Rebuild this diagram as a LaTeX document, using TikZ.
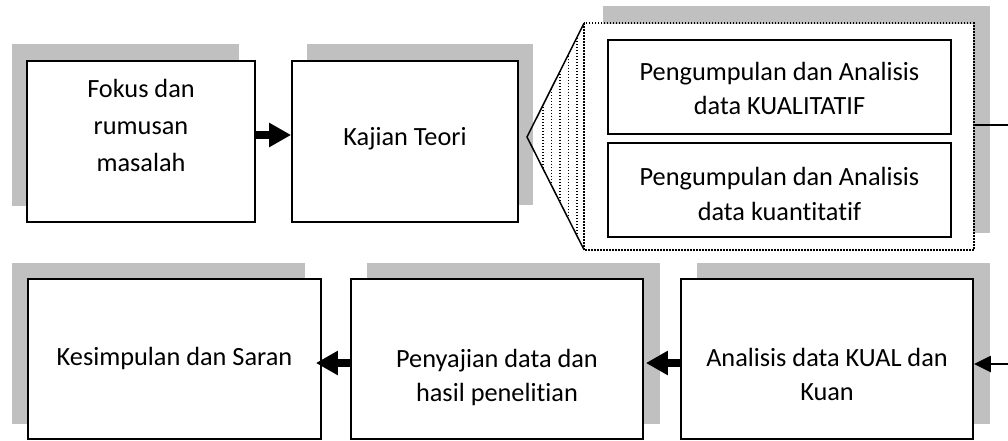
\documentclass[tikz,border=0pt]{standalone}
\usepackage{fontspec}
\setmainfont{Carlito}[Ligatures=NoCommon]
\usetikzlibrary{arrows.meta}
\definecolor{shadowgray}{HTML}{C0C0C0}
\begin{document}
\begin{tikzpicture}[x=1pt,y=-1pt,
  boxnode/.style={draw, line width=1.8pt, fill=white, rectangle, inner sep=0pt},
  shadowfill/.style={fill=shadowgray},
  txt/.style={inner sep=0pt, anchor=base, align=center, font=\fontsize{26.3}{34.5}\selectfont},
  txtwide/.style={txt, font=\fontsize{26.3}{37}\selectfont},
  framedots/.style={line width=1.6pt, dash pattern=on 1.6pt off 1.4pt},
  finedots/.style={line width=1.1pt, dash pattern=on 1.1pt off 1.9pt},
  blockarrow/.style={line width=7.5pt, -{Triangle[length=22pt,width=23pt]}},
  thinarrow/.style={line width=2.4pt, -{Triangle[length=17pt,width=16pt]}}
]
\useasboundingbox (0,0) rectangle (1008,440);
% shadows
\fill[shadowfill] (12,44) rectangle (239,206);
\fill[shadowfill] (307,44) rectangle (533,205);
\fill[shadowfill] (603,6) rectangle (990,233);
\fill[shadowfill] (12,263) rectangle (305,424);
\fill[shadowfill] (367,263) rectangle (660,424);
\fill[shadowfill] (697,263) rectangle (990,424);
% boxes
\node[boxnode, minimum width=228pt, minimum height=161pt] (fokus) at (141,141.5) {};
\node[boxnode, minimum width=226pt, minimum height=161pt] (kajian) at (405,141.5) {};
\node[boxnode, draw=none, minimum width=388pt, minimum height=225pt] (container) at (779,136.5) {};
\draw[framedots] (container.north west) rectangle (container.south east);
\node[boxnode, minimum width=343pt, minimum height=94pt] (kual) at (779.5,87) {};
\node[boxnode, minimum width=343pt, minimum height=94pt] (kuan) at (779.5,190) {};
\node[boxnode, minimum width=293pt, minimum height=160pt] (kesimpulan) at (174.5,359) {};
\node[boxnode, minimum width=292pt, minimum height=160pt] (penyajian) at (497,359) {};
\node[boxnode, minimum width=292pt, minimum height=160pt] (analisis) at (827,359) {};
% triangle
\coordinate (apex) at (527,137);
\begin{scope}
  \clip (apex) -- (container.north west) -- (container.south west) -- cycle;
  \foreach \xx in {543,551.5,560,568.5,577}
    \draw[finedots] (\xx,20) -- (\xx,255);
\end{scope}
\draw[line width=1.5pt, line join=miter] (container.north west) -- (apex) -- (container.south west);
% texts (anchor = baseline of the last line)
\node[txtwide] (fokus-t) at (141,171) {Fokus dan\\rumusan\\masalah};
\node[txt] (kajian-t) at (405,145) {Kajian Teori};
\node[txt] (kual-t) at (779.5,114.5) {Pengumpulan dan Analisis\\data KUALITATIF};
\node[txt] (kuan-t) at (779.5,220) {Pengumpulan dan Analisis\\data kuantitatif};
\node[txt] (kesimpulan-t) at (174.5,365) {Kesimpulan dan Saran};
\node[txt] (penyajian-t) at (497,401.5) {Penyajian data dan\\hasil penelitian};
\node[txt] (analisis-t) at (827,400.5) {Analisis data KUAL dan\\Kuan};
% connectors
\draw[blockarrow] ([yshift=6.5pt]fokus.east) -- ([yshift=6.5pt]kajian.west);
\draw[blockarrow] ([yshift=-4pt]penyajian.west) -- ([yshift=-4pt,xshift=-6pt]kesimpulan.east);
\draw[blockarrow] ([yshift=-4pt]analisis.west) -- ([yshift=-4pt,xshift=2pt]penyajian.east);
\coordinate (rightin) at (1008,364);
\coordinate (rightout) at (1008,125);
\draw[thinarrow] (rightin) -- (analisis.east |- rightin);
\draw[line width=2.4pt] (container.east |- rightout) -- (rightout);
\end{tikzpicture}
\end{document}
